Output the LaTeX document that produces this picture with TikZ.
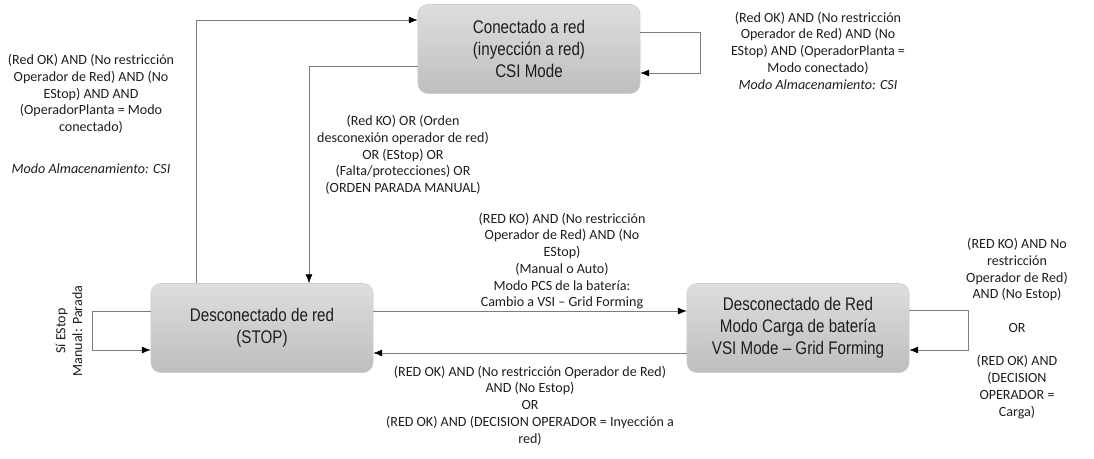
\documentclass[tikz,border=0pt]{standalone}
\usepackage{fontspec}
\setmainfont{Carlito}
\newfontfamily\statefont[FakeStretch=0.83]{Liberation Sans}
\usepackage{xcolor}
\usepackage{tikz}
\usetikzlibrary{positioning,arrows.meta,shadings}
\definecolor{statetop}{RGB}{222,222,222}
\definecolor{statebot}{RGB}{190,190,190}
\definecolor{stateedge}{RGB}{205,205,205}
\definecolor{linegray}{RGB}{125,125,125}
\definecolor{txt}{RGB}{30,30,30}

\begin{document}
\begin{tikzpicture}[
  x=0.025cm, y=-0.025cm,
  every node/.style={text=txt},
  state/.style={rectangle, rounded corners=7pt, draw=stateedge,
                top color=statetop, bottom color=statebot,
                minimum width=5.55cm, minimum height=2.225cm, align=center,
                font=\statefont\fontsize{13}{15.6}\selectfont},
  cond/.style={align=center, inner sep=0pt,
               font=\fontsize{10}{11.9}\selectfont},
  flow/.style={draw=linegray, -{Latex[length=2.2mm,width=1.7mm,color=black]}}
]
  \useasboundingbox (0,0) rectangle (1094,459);

  % States
  \node[state] (csi)  at (529,49)  {Conectado a red\\(inyección a red)\\CSI Mode};
  \node[state] (stop) at (262,328) {Desconectado de red\\(STOP)};
  \node[state] (vsi)  at (798,328) {Desconectado de Red\\Modo Carga de batería\\VSI Mode – Grid Forming};

  % Transitions
  \draw[flow] (stop.north -| 196,0) -- (196,20) -- (csi.west |- 0,20);
  \draw[flow] (csi.west |- 0,66) -- (309,66) -- (stop.north -| 309,0);
  \draw[flow] (csi.east |- 0,32) -- (700,32) -- (700,73) -- (csi.east |- 0,73);
  \draw[flow] (stop.west |- 0,311) -- (92,311) -- (92,350) -- (stop.west |- 0,350);
  \draw[flow] (stop.east |- 0,311) -- (vsi.west |- 0,311);
  \draw[flow] (vsi.west |- 0,353) -- (stop.east |- 0,353);
  \draw[flow] (vsi.east |- 0,310) -- (968,310) -- (968,350) -- (vsi.east |- 0,350);

  % Conditions
  \node[cond] (c-tocsi) at (91,114)
    {(Red OK) AND (No restricción\\Operador de Red) AND (No\\EStop) AND AND\\(OperadorPlanta = Modo\\conectado)\\[18pt]\textit{Modo Almacenamiento: CSI}};
  \node[cond] (c-csi) at (818,50.5)
    {(Red OK) AND (No restricción\\Operador de Red) AND (No\\EStop) AND (OperadorPlanta =\\Modo conectado)\\\textit{Modo Almacenamiento: CSI}};
  \node[cond] (c-tostop) at (403,155)
    {(Red KO) OR (Orden\\desconexión operador de red)\\OR (EStop) OR\\(Falta/protecciones) OR\\(ORDEN PARADA MANUAL)};
  \node[cond] (c-tovsi) at (562,261)
    {(RED KO) AND (No restricción\\Operador de Red) AND (No\\EStop)\\(Manual o Auto)\\Modo PCS de la batería:\\Cambio a VSI – Grid Forming};
  \node[cond] (c-back) at (530,405.5)
    {(RED OK) AND (No restricción Operador de Red)\\AND (No Estop)\\OR\\(RED OK) AND (DECISION OPERADOR = Inyección a\\red)};
  \node[cond] (c-vsi) at (1017,328.5)
    {(RED KO) AND No\\restricción\\Operador de Red)\\AND (No Estop)\\[11.9pt]OR\\[11.9pt](RED OK) AND\\(DECISION\\OPERADOR =\\Carga)};
  \node[cond, rotate=90] (c-stop) at (69,331) {Sí EStop\\Manual: Parada};
\end{tikzpicture}
\end{document}
